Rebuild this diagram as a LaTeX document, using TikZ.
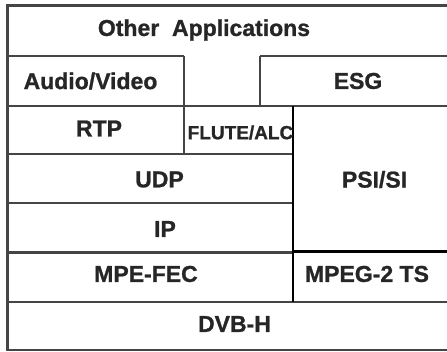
\documentclass[tikz,border=0pt]{standalone}
\usepackage{fontspec}
\setmainfont{Liberation Sans}
\newfontfamily\heavyfont{Liberation Sans Bold}[FakeBold=1]
\definecolor{linegray}{HTML}{454545}
\begin{document}
\begin{tikzpicture}[x=1pt,y=-1pt,
  grid/.style={draw=linegray,line width=2.2pt},
  darkline/.style={draw=black,line width=2.2pt},
  lbl/.style={font=\heavyfont\fontsize{23}{25}\selectfont,text=black!85,inner sep=0pt,anchor=center},
  smalllbl/.style={font=\heavyfont\fontsize{19}{21}\selectfont,text=black!85,inner sep=0pt,anchor=center}]
\useasboundingbox[fill=white] (0,0) rectangle (447,352);
% frame and rows
\draw[grid] (447,5.5) -- (7.5,5.5) -- (7.5,350) -- (447,350);
\draw[grid] (7.5,56) -- (184,56);
\draw[grid] (260,56) -- (447,56);
\draw[grid] (184,56) -- (184,154);
\draw[grid] (260,56) -- (260,106);
\draw[grid] (7.5,106) -- (447,106);
\draw[grid] (7.5,154) -- (293,154);
\draw[grid] (7.5,203) -- (293,203);
\draw[grid] (7.5,252.5) -- (293,252.5);
\draw[darkline] (293,251.5) -- (447,251.5);
\draw[grid] (7.5,302) -- (447,302);
\draw[darkline] (293,106) -- (293,302);
% labels
\node[lbl] (apps) at (204,30) {Other\ \ Applications};
\node[lbl] (av) at (90.5,81) {Audio/Video};
\node[lbl] (esg) at (358,81) {ESG};
\node[lbl] (rtp) at (99,128.5) {RTP};
\node[smalllbl] (flute) at (240.5,132.5) {FLUTE/ALC};
\node[lbl] (udp) at (159.5,179.5) {UDP};
\node[lbl] (psi) at (374.5,179.5) {PSI/SI};
\node[lbl] (ip) at (165,229) {IP};
\node[lbl] (mpe) at (146,274) {MPE-FEC};
\node[lbl] (ts) at (367,274) {MPEG-2 TS};
\node[lbl] (dvbh) at (234.5,324) {DVB-H};
\end{tikzpicture}
\end{document}
